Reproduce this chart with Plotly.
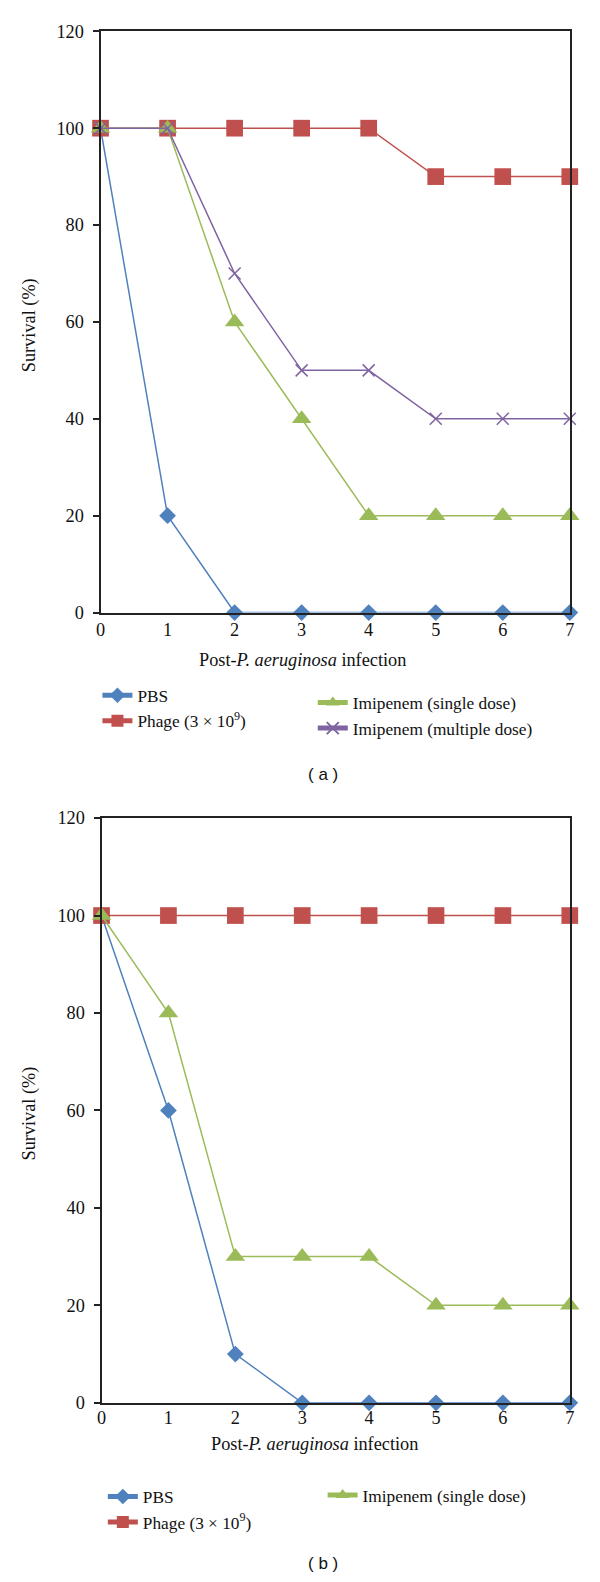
import plotly.graph_objects as go

days = [0, 1, 2, 3, 4, 5, 6, 7]
y_ticks = [0, 20, 40, 60, 80, 100, 120]

# Panel (a)
a_pbs = [100, 20, 0, 0, 0, 0, 0, 0]
a_phage = [100, 100, 100, 100, 100, 90, 90, 90]
a_imi_single = [100, 100, 60, 40, 20, 20, 20, 20]
a_imi_multi = [100, 100, 70, 50, 50, 40, 40, 40]

# Panel (b)
b_pbs = [100, 60, 10, 0, 0, 0, 0, 0]
b_phage = [100, 100, 100, 100, 100, 100, 100, 100]
b_imi_single = [100, 80, 30, 30, 30, 20, 20, 20]

names = {
    "pbs": "PBS",
    "phage": "Phage (3 × 10<sup>9</sup>)",
    "single": "Imipenem (single dose)",
    "multi": "Imipenem (multiple dose)",
}
x_title = "Post-<i>P. aeruginosa</i> infection"
y_title = "Survival (%)"
panel_labels = ["( a )", "( b )"]

BLUE, RED, GREEN, PURPLE = "#4F81BD", "#C0504D", "#9BBB59", "#8064A2"
SERIF = "Liberation Serif, Times New Roman, serif"
AX = "#222222"

W, H = 600, 1582
S, OX, OY = 0.987, 3.1, 8.7  # observed page->picture mapping


def px(v):
    return ((v - OX) / S) / W


def py(v):
    return 1 - ((v - OY) / S) / H


styles = {
    "pbs": dict(color=BLUE, symbol="diamond", size=12.9),
    "phage": dict(color=RED, symbol="square", size=16.7),
    "single": dict(color=GREEN, symbol="triangle-up", size=17),
    "multi": dict(color=PURPLE, symbol="x-thin", size=12),
}


def add(fig, key, ys, xa, ya, legend):
    st = styles[key]
    if key == "multi":
        marker = dict(symbol=st["symbol"], size=st["size"], color=st["color"],
                      line=dict(color=st["color"], width=1.5))
    else:
        marker = dict(symbol=st["symbol"], size=st["size"], color=st["color"],
                      line=dict(width=0))
    fig.add_trace(go.Scatter(
        x=days, y=ys, mode="lines+markers", name=names[key],
        line=dict(color=st["color"], width=1.5), marker=marker,
        xaxis=xa, yaxis=ya, legend=legend, cliponaxis=False,
    ))


fig = go.Figure()
add(fig, "pbs", a_pbs, "x", "y", "legend")
add(fig, "phage", a_phage, "x", "y", "legend")
add(fig, "single", a_imi_single, "x", "y", "legend2")
add(fig, "multi", a_imi_multi, "x", "y", "legend2")
add(fig, "pbs", b_pbs, "x2", "y2", "legend3")
add(fig, "phage", b_phage, "x2", "y2", "legend3")
add(fig, "single", b_imi_single, "x2", "y2", "legend4")

xaxis_common = dict(
    range=[0, 7], tickvals=days, ticks="", showline=True, linecolor=AX,
    linewidth=2, mirror=True, showgrid=False, zeroline=False,
    tickfont=dict(family=SERIF, size=18.3, color="#111"),
)
yaxis_common = dict(
    range=[0, 120], tickvals=y_ticks, ticks="outside", ticklen=6,
    tickcolor=AX, tickwidth=1.5, showline=True, linecolor=AX, linewidth=2,
    mirror=True, showgrid=False, zeroline=False, ticklabelstandoff=5,
    tickfont=dict(family=SERIF, size=18.3, color="#111"),
)

legend_common = dict(
    font=dict(family=SERIF, size=17.3, color="#111"), bgcolor="rgba(0,0,0,0)",
    itemsizing="constant", tracegroupgap=0, xanchor="left", yanchor="top",
    borderwidth=0,
)


def lx(v):
    return v / W


def ly(v):
    return 1 - v / H


fig.update_layout(
    width=W, height=H, margin=dict(l=0, r=0, t=0, b=0), autosize=False,
    paper_bgcolor="white", plot_bgcolor="white",
    xaxis=dict(domain=[px(99), px(570)], anchor="y", ticklabelstandoff=0, **xaxis_common),
    yaxis=dict(domain=[py(611), py(30)], anchor="x", **yaxis_common),
    xaxis2=dict(domain=[px(100), px(570)], anchor="y2", ticklabelstandoff=-3, **xaxis_common),
    yaxis2=dict(domain=[py(1401), py(816.5)], anchor="x2", **yaxis_common),
    legend=dict(x=lx(94), y=ly(676), **legend_common),
    legend2=dict(x=lx(313), y=ly(683.5), **legend_common),
    legend3=dict(x=lx(99.5), y=ly(1487.5), **legend_common),
    legend4=dict(x=lx(323), y=ly(1486), **legend_common),
    showlegend=True,
)

annots = [
    dict(x=px(302), y=py(658), text=x_title, textangle=0),
    dict(x=px(314), y=py(1442), text=x_title, textangle=0),
    dict(x=px(28), y=py(324), text=y_title, textangle=-90),
    dict(x=px(28), y=py(1112), text=y_title, textangle=-90),
]
for a in annots:
    fig.add_annotation(xref="paper", yref="paper", showarrow=False,
                       xanchor="center", yanchor="middle",
                       font=dict(family=SERIF, size=18.3, color="#111"), **a)

fig.add_annotation(xref="paper", yref="paper", showarrow=False,
                   x=px(322), y=py(773), xanchor="center", yanchor="middle",
                   text=panel_labels[0],
                   font=dict(family="Liberation Sans, Arial, sans-serif",
                             size=17, color="#111"))
fig.add_annotation(xref="paper", yref="paper", showarrow=False,
                   x=px(322), y=0, xanchor="center", yanchor="bottom",
                   yshift=-2, borderpad=0,
                   text=panel_labels[1],
                   font=dict(family="Liberation Sans, Arial, sans-serif",
                             size=17, color="#111"))

fig.write_html(
    "out.html",
    config={"displayModeBar": False},
    post_script="document.body.style.margin='0';document.body.style.padding='0';",
)
